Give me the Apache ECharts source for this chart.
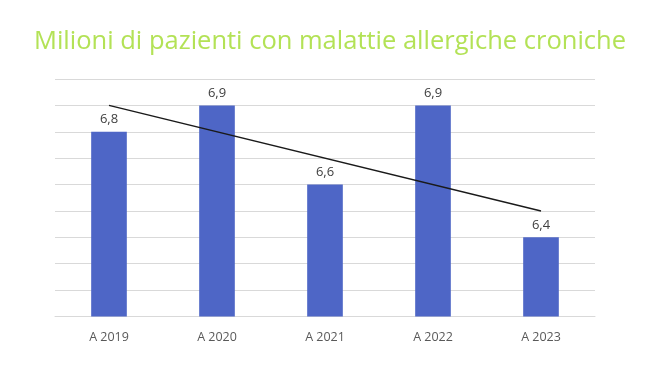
<!DOCTYPE html>
<html>
<head>
<meta charset="utf-8">
<script src="https://cdn.jsdelivr.net/npm/echarts@6/dist/echarts.min.js"></script>
<style>
html,body{margin:0;padding:0;background:#fff;}
#chart{width:660px;height:365px;}
</style>
</head>
<body>
<div id="chart"></div>
<script>
var titleText = 'Milioni di pazienti con malattie allergiche croniche';
var categories = ['A 2019', 'A 2020', 'A 2021', 'A 2022', 'A 2023'];
var values = [6.8, 6.9, 6.6, 6.9, 6.4];
var trendValues = [6.9, null, null, null, 6.5];
var yMin = 6.1, yMax = 7.0, yStep = 0.1;

var chart = echarts.init(document.getElementById('chart'), null, {renderer: 'canvas'});
chart.setOption({
  backgroundColor: '#ffffff',
  animation: false,
  title: {
    text: titleText,
    left: 'center',
    top: 24,
    textStyle: {color: '#b3e256', fontSize: 25.5, fontWeight: 500, fontFamily: 'Open Sans'}
  },
  grid: {left: 55, right: 65, top: 79, bottom: 48.5, containLabel: false},
  xAxis: {
    type: 'category',
    data: categories,
    axisTick: {show: false},
    axisLine: {lineStyle: {color: '#d9d9d9', width: 1}},
    axisLabel: {color: '#595959', fontSize: 12.5, margin: 14, fontFamily: 'Open Sans'}
  },
  yAxis: {
    type: 'value',
    min: yMin, max: yMax, interval: yStep,
    axisLabel: {show: false},
    axisLine: {show: false},
    axisTick: {show: false},
    splitLine: {lineStyle: {color: '#d9d9d9', width: 1}}
  },
  series: [
    {
      type: 'bar',
      data: values,
      barWidth: '33%',
      itemStyle: {color: '#4e66c6'},
      label: {
        show: true, position: 'top', distance: 6,
        color: '#404040', fontSize: 13, fontFamily: 'Open Sans',
        formatter: function (p) { return String(p.value).replace('.', ','); }
      }
    },
    {
      type: 'line',
      data: trendValues,
      connectNulls: true,
      showSymbol: false,
      symbol: 'none',
      lineStyle: {color: '#1a1a1a', width: 1.5},
      z: 5
    }
  ]
});
</script>
</body>
</html>
